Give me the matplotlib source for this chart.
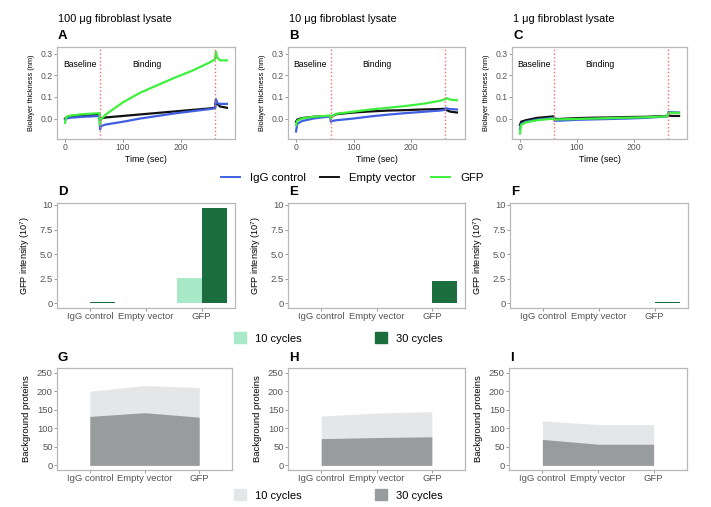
import matplotlib
matplotlib.use("Agg")
import matplotlib.pyplot as plt
from matplotlib.lines import Line2D
from matplotlib.patches import Patch

plt.rcParams['font.family'] = ['Liberation Sans', 'DejaVu Sans']
plt.rcParams['mathtext.default'] = 'regular'

# ---- data: biolayer interferometry traces (time in sec, thickness in nm)
t = [0, 2, 10, 30, 59.5, 60.5, 62, 70, 100, 130, 160, 190, 220, 250, 259.5, 261, 263, 268, 280]

green_A = [-0.02, 0.008, 0.014, 0.02, 0.025, -0.03, -0.005, 0.018, 0.075, 0.12, 0.155, 0.19, 0.222, 0.26, 0.275, 0.31, 0.285, 0.27, 0.27]
black_A = [0.0, 0.004, 0.008, 0.013, 0.018, -0.01, 0.0, 0.005, 0.012, 0.019, 0.026, 0.033, 0.04, 0.047, 0.05, 0.085, 0.07, 0.056, 0.05]
blue_A = [-0.005, 0.0, 0.004, 0.008, 0.012, -0.05, -0.035, -0.028, -0.015, 0.0, 0.012, 0.024, 0.034, 0.044, 0.048, 0.09, 0.072, 0.068, 0.068]

green_B = [-0.03, -0.01, 0.0, 0.008, 0.014, 0.0, 0.01, 0.022, 0.032, 0.042, 0.05, 0.058, 0.068, 0.082, 0.09, 0.095, 0.093, 0.088, 0.085]
black_B = [-0.015, -0.005, 0.002, 0.008, 0.012, 0.0, 0.01, 0.02, 0.028, 0.033, 0.037, 0.039, 0.042, 0.044, 0.045, 0.042, 0.038, 0.032, 0.028]
blue_B = [-0.06, -0.025, -0.012, 0.0, 0.01, -0.015, -0.012, -0.008, 0.0, 0.01, 0.018, 0.025, 0.031, 0.037, 0.04, 0.048, 0.046, 0.044, 0.042]

green_C = [-0.07, -0.03, -0.018, -0.008, 0.0, -0.006, -0.005, -0.004, -0.002, 0.0, 0.002, 0.004, 0.006, 0.009, 0.01, 0.025, 0.027, 0.027, 0.026]
black_C = [-0.03, -0.015, -0.008, 0.003, 0.01, -0.002, -0.002, -0.002, 0.002, 0.004, 0.005, 0.007, 0.008, 0.011, 0.012, 0.015, 0.013, 0.012, 0.012]
blue_C = [-0.05, -0.025, -0.015, -0.005, 0.003, -0.01, -0.01, -0.01, -0.006, -0.004, -0.002, 0.0, 0.003, 0.008, 0.01, 0.03, 0.03, 0.029, 0.028]

phase_edges = [60, 260]
lysates = ["100 μg fibroblast lysate", "10 μg fibroblast lysate", "1 μg fibroblast lysate"]

# ---- data: GFP intensity (10^7) and background proteins
samples = ["IgG control", "Empty vector", "GFP"]
gfp_10 = [[0, 0, 2.6], [0, 0, 0.05], [0, 0, 0.0]]
gfp_30 = [[0.12, 0, 9.7], [0, 0, 2.3], [0, 0, 0.12]]
bg_10 = [[200, 215, 210], [133, 141, 145], [120, 110, 110]]
bg_30 = [[132, 142, 130], [72, 75, 77], [70, 57, 57]]

c_blue, c_black, c_green = "#3f5fe0", "#111111", "#3ef03e"
c_lg, c_dg = "#a8eac8", "#1c6e3e"
c_lgrey, c_dgrey = "#e5e6e7", "#999c9c"

W, H = 711, 507
fig = plt.figure(figsize=(W / 100, H / 100), dpi=100)


def box(l, t_, r, b):
    return [l / W, 1 - b / H, (r - l) / W, (b - t_) / H]


def style(ax, tick_fs):
    for s in ax.spines.values():
        s.set_color("#b8b8b8")
        s.set_linewidth(0.9)
    ax.tick_params(length=2, width=0.6, color="#8a8a8a", labelcolor="#555555",
                   labelsize=tick_fs, pad=1)


row1 = [(57, 47, 235, 139), (288, 47, 465, 139), (512, 47, 687, 139)]
row2 = [(57, 203, 235, 308), (288, 203, 465, 308), (510, 203, 688, 308)]
row3 = [(57, 368, 232, 470), (288, 368, 465, 470), (509, 368, 687, 470)]
traces = [(blue_A, black_A, green_A), (blue_B, black_B, green_B), (blue_C, black_C, green_C)]

for i, (l, tp, r, b) in enumerate(row1):
    ax = fig.add_axes(box(l, tp, r, b))
    blue, black, green = traces[i]
    ax.plot(t, black, color=c_black, lw=1.6)
    ax.plot(t, blue, color=c_blue, lw=1.6)
    ax.plot(t, green, color=c_green, lw=1.6)
    for x in phase_edges:
        ax.axvline(x, color="#f07070", ls=":", lw=1)
    ax.text(25, 0.253, "Baseline", fontsize=6.2, ha="center", va="center")
    ax.text(141, 0.253, "Binding", fontsize=6.2, ha="center", va="center")
    ax.set_xlim(-14, 294)
    ax.set_ylim(-0.095, 0.332)
    ax.set_xticks([0, 100, 200])
    ax.set_yticks([0, 0.1, 0.2, 0.3])
    ax.set_yticklabels(["0.0", "0.1", "0.2", "0.3"])
    style(ax, 6.2)
    ax.set_xlabel("Time (sec)", fontsize=6.4, labelpad=2)
    ax.set_ylabel("Biolayer thickness (nm)", fontsize=5.3)
    ax.yaxis.set_label_coords(-22 / (r - l), 0.5)
    fig.text((l + 1) / W, 1 - 19 / H, lysates[i], fontsize=7.9, va="center")
    fig.text((l + 1) / W, 1 - 36 / H, "ABC"[i], fontsize=9.5, fontweight="bold", va="center")

xs = [1, 2, 3]
for i, (l, tp, r, b) in enumerate(row2):
    ax = fig.add_axes(box(l, tp, r, b))
    ax.bar([x - 0.225 for x in xs], gfp_10[i], width=0.45, color=c_lg)
    ax.bar([x + 0.225 for x in xs], gfp_30[i], width=0.45, color=c_dg)
    ax.set_xlim(0.4, 3.6)
    ax.set_ylim(-0.49, 10.2)
    ax.set_xticks(xs)
    ax.set_xticklabels(samples)
    ax.set_yticks([0, 2.5, 5, 7.5, 10])
    ax.set_yticklabels(["0", "2.5", "5.0", "7.5", "10"])
    style(ax, 6.8)
    ax.set_ylabel(r"GFP intensity (10$^{7}$)", fontsize=6.6)
    ax.yaxis.set_label_coords(-25 / (r - l), 0.5)
    fig.text((l + 1) / W, 1 - 192 / H, "DEF"[i], fontsize=9.5, fontweight="bold", va="center")

for i, (l, tp, r, b) in enumerate(row3):
    ax = fig.add_axes(box(l, tp, r, b))
    ax.fill_between(xs, 0, bg_10[i], color=c_lgrey, lw=0)
    ax.fill_between(xs, 0, bg_30[i], color=c_dgrey, lw=0)
    ax.set_xlim(0.4, 3.6)
    ax.set_ylim(-12.5, 262.5)
    ax.set_xticks(xs)
    ax.set_xticklabels(samples)
    ax.set_yticks([0, 50, 100, 150, 200, 250])
    style(ax, 6.8)
    ax.set_ylabel("Background proteins", fontsize=6.8)
    ax.yaxis.set_label_coords(-26 / (r - l), 0.5)
    fig.text((l + 1) / W, 1 - 358 / H, "GHI"[i], fontsize=9.5, fontweight="bold", va="center")

line_handles = [Line2D([], [], color=c, lw=1.4) for c in (c_blue, c_black, c_green)]
fig.legend(line_handles, samples, loc="center", bbox_to_anchor=(352 / W, 1 - 178 / H),
           ncol=3, frameon=False, fontsize=8.2, handlelength=1.67, handletextpad=0.88,
           columnspacing=1.3, borderpad=0, borderaxespad=0)

for y, (ca, cb) in ((338, (c_lg, c_dg)), (495, (c_lgrey, c_dgrey))):
    fig.legend([Patch(color=ca), Patch(color=cb)], ["10 cycles", "30 cycles"],
               loc="center", bbox_to_anchor=(338 / W, 1 - y / H), ncol=2, frameon=False,
               fontsize=8, handlelength=1.08, handleheight=1.08, handletextpad=0.8,
               columnspacing=6.6, borderpad=0, borderaxespad=0)

fig.savefig("out.png", dpi=100)
